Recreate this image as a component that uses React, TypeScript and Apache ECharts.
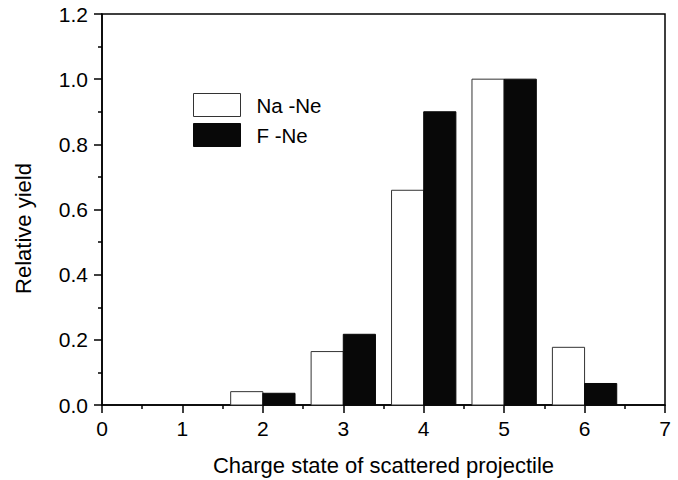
import React, { useEffect, useRef } from "react";
import * as echarts from "echarts";

const chargeStates = [0, 1, 2, 3, 4, 5, 6];
const naNe = [0, 0, 0.041, 0.164, 0.659, 1.0, 0.177];
const fNe = [0, 0, 0.036, 0.217, 0.9, 1.0, 0.066];
const xTicks = [0, 1, 2, 3, 4, 5, 6, 7];
const yTicks = [0, 0.2, 0.4, 0.6, 0.8, 1.0, 1.2];

const FONT = "'Liberation Sans', Arial, sans-serif";

export default function App() {
  const ref = useRef<HTMLDivElement>(null);
  useEffect(() => {
    if (!ref.current) return;
    const chart = echarts.init(ref.current, null, { renderer: "svg" });
    const makeRender = (off: number) => (params: any, api: any) => {
      const x = api.value(0);
      const y = api.value(1);
      if (!(y > 0)) return null;
      const p0 = api.coord([x + off, y]);
      const p1 = api.coord([x + off + 0.4, 0]);
      return {
        type: "rect",
        shape: { x: p0[0], y: p0[1], width: p1[0] - p0[0], height: p1[1] - p0[1] },
        style: api.style(),
      };
    };
    chart.setOption({
      animation: false,
      backgroundColor: "#fff",
      grid: {
        left: 102,
        right: 13,
        top: 14,
        bottom: 75,
        outerBoundsMode: "none",
        containLabel: false,
        show: true,
        borderColor: "#000",
        borderWidth: 1.5,
        backgroundColor: "transparent",
      },
      legend: {
        orient: "vertical",
        left: 193,
        top: 93,
        padding: 0,
        itemWidth: 47,
        itemHeight: 23,
        itemGap: 6,
        icon: "rect",
        textStyle: { fontSize: 20.5, fontFamily: FONT, color: "#000", padding: [0, 0, 0, 11] },
        data: [
          { name: "Na -Ne", itemStyle: { color: "#fff", borderColor: "#333", borderWidth: 1 } },
          { name: "F -Ne", itemStyle: { color: "#080808", borderColor: "#080808", borderWidth: 1 } },
        ],
      },
      xAxis: {
        type: "value",
        min: xTicks[0],
        max: xTicks[xTicks.length - 1],
        interval: 1,
        name: "Charge state of scattered projectile",
        nameLocation: "middle",
        nameGap: 49,
        nameTextStyle: { fontSize: 22, fontFamily: FONT, color: "#000" },
        axisLine: { show: true, onZero: false, lineStyle: { color: "#000", width: 1.5 } },
        axisTick: { show: true, inside: false, length: 8, lineStyle: { color: "#000", width: 1.5 } },
        minorTick: { show: true, splitNumber: 2, length: 4, lineStyle: { color: "#000", width: 1.5 } },
        axisLabel: { fontSize: 21, fontFamily: FONT, color: "#000", margin: 13 },
        splitLine: { show: false },
      },
      yAxis: {
        type: "value",
        min: yTicks[0],
        max: yTicks[yTicks.length - 1],
        interval: 0.2,
        name: "Relative yield",
        nameLocation: "middle",
        nameGap: 68,
        nameTextStyle: { fontSize: 22, fontFamily: FONT, color: "#000", padding: [0, 38, 0, 0] },
        axisLine: { show: true, onZero: false, lineStyle: { color: "#000", width: 1.5 } },
        axisTick: { show: true, inside: false, length: 8, lineStyle: { color: "#000", width: 1.5 } },
        minorTick: { show: true, splitNumber: 2, length: 4, lineStyle: { color: "#000", width: 1.5 } },
        axisLabel: {
          fontSize: 21,
          fontFamily: FONT,
          color: "#000",
          margin: 14,
          formatter: (v: number) => v.toFixed(1),
        },
        splitLine: { show: false },
      },
      series: [
        {
          name: "Na -Ne",
          type: "custom",
          renderItem: makeRender(-0.4),
          encode: { x: 0, y: 1 },
          itemStyle: { color: "#fff", borderColor: "#333", borderWidth: 1 },
          data: chargeStates.map((c, i) => [c, naNe[i]]),
        },
        {
          name: "F -Ne",
          type: "custom",
          renderItem: makeRender(0),
          encode: { x: 0, y: 1 },
          itemStyle: { color: "#080808", borderColor: "#080808", borderWidth: 1 },
          data: chargeStates.map((c, i) => [c, fNe[i]]),
        },
      ],
    });
    return () => chart.dispose();
  }, []);
  return <div ref={ref} style={{ width: 678, height: 480, position: "absolute", left: 0, top: 0 }} />;
}
